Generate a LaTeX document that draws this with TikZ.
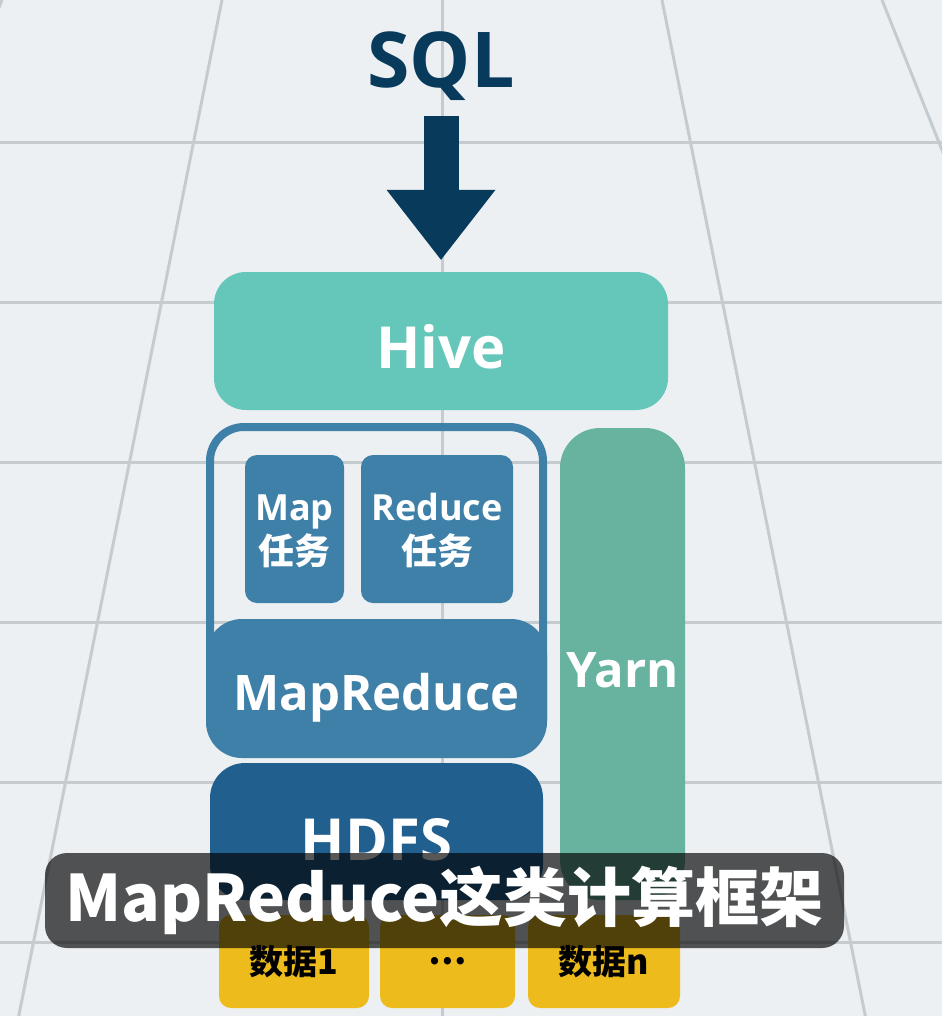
\documentclass[tikz,border=0pt]{standalone}
\usepackage{fontspec}
\usepackage{tikz}
\usetikzlibrary{arrows.meta, positioning, calc}
\setmainfont{Open Sans}
\newfontfamily\cjk{Noto Sans CJK SC}
\definecolor{bggray}{RGB}{236,240,242}
\definecolor{gridgray}{RGB}{197,203,207}
\definecolor{sqlnavy}{RGB}{8,58,92}
\definecolor{hiveteal}{RGB}{101,199,185}
\definecolor{mrblue}{RGB}{62,128,168}
\definecolor{yarngreen}{RGB}{103,179,159}
\definecolor{hdfsblue}{RGB}{33,95,142}
\definecolor{datayellow}{RGB}{237,188,28}

\begin{document}
\begin{tikzpicture}[x=1pt, y=-1pt,
    gridline/.style={gridgray, line width=3pt},
    layerbox/.style={inner sep=0pt, text=white, align=center, text depth=0pt},
    taskbox/.style={layerbox, fill=mrblue, rounded corners=12pt, minimum height=148pt, text height=70pt,
        font=\fontsize{36}{44}\selectfont\bfseries},
    databox/.style={inner sep=0pt, fill=datayellow, rounded corners=12pt, minimum height=93pt,
        font=\cjk\fontsize{34}{40}\selectfont\bfseries},
    sqlarrow/.style={sqlnavy, line width=35pt, -{Triangle[length=70pt, width=109pt, line width=0pt]}}]
    \useasboundingbox (0,0) rectangle (942,1016);
    % Draw floor grid
    \begin{scope}
        \clip (0,0) rectangle (942,1016);
        \fill[bggray] (0,0) rectangle (942,1016);
        \foreach \y in {143,302,462,622,782,942} {
            \draw[gridline] (0,\y) -- (942,\y);
        }
        \foreach \k in {-2,...,2} {
            \draw[gridline] (442+220*\k,0) -- (442+220*\k*1.924,1016);
        }
    \end{scope}

    % Query and Hive
    \node[text=sqlnavy, font=\fontsize{77}{80}\selectfont\bfseries] (sql) at (441,66) {SQL};
    \node[layerbox, fill=hiveteal, rounded corners=32pt, minimum width=454pt, minimum height=138pt, text height=54pt,
        font=\fontsize{58}{64}\selectfont\bfseries] (hive) at (441,341) {Hive};
    \coordinate (arrtop) at (441,116);
    \draw[sqlarrow, shorten >=12pt] (arrtop) -- (hive.north);

    % MapReduce block
    \node[draw=mrblue, line width=8pt, rounded corners=34pt, minimum width=333pt, minimum height=326pt] (mrframe) at (376.5,590) {};
    \node[taskbox, minimum width=99pt] (maptask) at (294.5,529) {Map\\{\cjk 任务}};
    \node[taskbox, minimum width=152pt] (reducetask) at (437,529) {Reduce\\{\cjk 任务}};
    \node[layerbox, fill=mrblue, rounded corners=36pt, minimum width=341pt, minimum height=139pt, text height=43pt,
        font=\fontsize{49}{54}\selectfont\bfseries] (mrbase) at (376.5,688.5) {MapReduce};

    % Yarn and HDFS
    \node[layerbox, fill=yarngreen, rounded corners=40pt, minimum width=125pt, minimum height=472pt, text height=46pt,
        font=\fontsize{49}{54}\selectfont\bfseries] (yarn) at (622.5,664) {Yarn};
    \node[layerbox, fill=hdfsblue, rounded corners=35pt, minimum width=333pt, minimum height=137pt, text height=57pt,
        font=\fontsize{58}{64}\selectfont\bfseries] (hdfs) at (376.5,831.5) {HDFS};

    % Data blocks
    \node[databox, minimum width=150pt] (data1) at (294,961.5) {数据1};
    \node[databox, minimum width=135pt] (datadots) at (447.5,961.5) {…};
    \node[databox, minimum width=152pt] (datan) at (604,961.5) {数据n};

    % Subtitle bar
    \node[fill=black, fill opacity=0.66, text opacity=1, text=white, rounded corners=22pt, inner sep=0pt,
        minimum width=799pt, minimum height=95pt, font=\cjk\fontsize{64}{70}\selectfont\bfseries] (caption) at (444.5,900.5) {MapReduce这类计算框架};
\end{tikzpicture}
\end{document}
